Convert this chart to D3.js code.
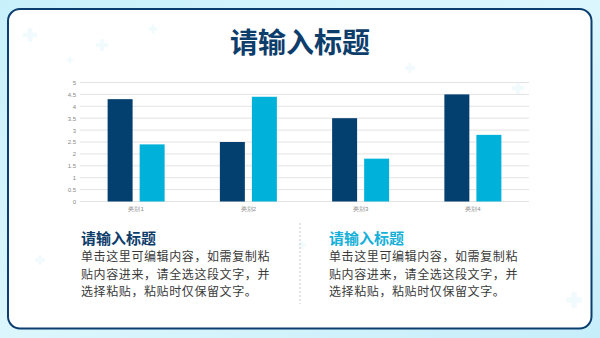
<!DOCTYPE html>
<html><head><meta charset="utf-8">
<script src="https://cdn.jsdelivr.net/npm/d3@7"></script>
<style>
body{margin:0;padding:0;overflow:hidden;}
svg{display:block;font-family:"Noto Sans CJK SC","Noto Sans",sans-serif;}
</style></head>
<body>
<script>
const categories = ["类别1","类别2","类别3","类别4"];
const series1 = [4.3, 2.5, 3.5, 4.5];
const series2 = [2.4, 4.4, 1.8, 2.8];
const yTicks = [0,0.5,1,1.5,2,2.5,3,3.5,4,4.5,5];
const title = "请输入标题";
const blockTitles = ["请输入标题","请输入标题"];
const bodyLines = ["单击这里可编辑内容，如需复制粘","贴内容进来，请全选这段文字，并","选择粘贴，粘贴时仅保留文字。"];

const W=600,H=338;
const svg=d3.select("body").append("svg").attr("width",W).attr("height",H);
const defs=svg.append("defs");
const g=defs.append("linearGradient").attr("id","bg").attr("x1","0").attr("y1","0").attr("x2","1").attr("y2","1");
g.append("stop").attr("offset","0").attr("stop-color","#c8f0fb");
g.append("stop").attr("offset","0.5").attr("stop-color","#dcf6fd");
g.append("stop").attr("offset","1").attr("stop-color","#c6eefa");
svg.append("rect").attr("width",W).attr("height",H).attr("fill","url(#bg)");

svg.append("rect").attr("x",8).attr("y",9).attr("width",583.5).attr("height",319.5).attr("rx",12)
  .attr("fill","#ffffff").attr("stroke","#0b3e6f").attr("stroke-width",2);

// faint plus decorations
const plus=[[30,35,14],[102,45,12],[153,29,9],[70,60,7],[410,68,10],[118,118,9],[518,88,12],[40,260,10],[302,245,8],[574,300,16]];
plus.forEach(([x,y,s])=>{
  const p=svg.append("g").attr("opacity",0.35).attr("fill","#d8f4fa");
  p.append("rect").attr("x",x-s/2).attr("y",y-s/6).attr("width",s).attr("height",s/3).attr("rx",1);
  p.append("rect").attr("x",x-s/6).attr("y",y-s/2).attr("width",s/3).attr("height",s).attr("rx",1);
});

svg.append("text").attr("x",300).attr("y",53).attr("text-anchor","middle")
  .attr("font-size",28).attr("font-weight",700).attr("fill","#0d3d6b").text(title);

const x0=d3.scaleBand().domain(categories).range([80,529]);
const x1=d3.scaleBand().domain([0,1]).range([0,57]).paddingInner(0.22);
const y=d3.scaleLinear().domain([0,5]).range([201.5,82.5]);

const grid=svg.append("g");
grid.selectAll("line").data(yTicks).join("line")
  .attr("x1",80).attr("x2",529).attr("y1",d=>y(d)).attr("y2",d=>y(d))
  .attr("stroke","#e3e3e3").attr("stroke-width",1);

const yAxis=svg.append("g").attr("transform","translate(80,0)")
  .call(d3.axisLeft(y).tickValues(yTicks).tickSize(0).tickPadding(4).tickFormat(d=>String(d)));
yAxis.select(".domain").remove();
yAxis.selectAll("text").attr("font-size",6).attr("fill","#888").attr("font-family","Liberation Sans, Arial, sans-serif");

const xAxis=svg.append("g").attr("transform","translate(0,201.5)")
  .call(d3.axisBottom(x0).tickSize(0).tickPadding(5));
xAxis.select(".domain").remove();
xAxis.selectAll("text").attr("font-size",6).attr("fill","#888");

const colors=["#033f6f","#00b2da"];
[series1,series2].forEach((s,i)=>{
  svg.append("g").selectAll("rect").data(s).join("rect")
    .attr("x",(d,j)=>x0(categories[j])+x0.bandwidth()/2-28.5+x1(i))
    .attr("y",d=>y(d)).attr("width",x1.bandwidth()).attr("height",d=>y(0)-y(d))
    .attr("fill",colors[i]);
});

// divider
svg.append("line").attr("x1",300).attr("x2",300).attr("y1",223).attr("y2",304)
  .attr("stroke","#c8c8c8").attr("stroke-width",1).attr("stroke-dasharray","2,2");

const bx=[81,329], tc=["#0d3d6b","#16b0d8"];
bx.forEach((x,i)=>{
  svg.append("text").attr("x",x).attr("y",244).attr("font-size",15).attr("font-weight",700)
    .attr("fill",tc[i]).text(blockTitles[i]);
  bodyLines.forEach((l,k)=>{
    svg.append("text").attr("x",x).attr("y",261+k*17.5).attr("font-size",12)
      .attr("letter-spacing",0.6).attr("fill","#3a3a3a").text(l);
  });
});
</script>
</body></html>
